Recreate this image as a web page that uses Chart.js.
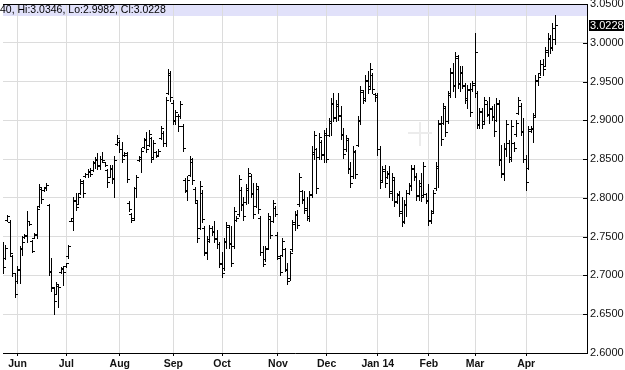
<!DOCTYPE html>
<html>
<head>
<meta charset="utf-8">
<script src="https://cdn.jsdelivr.net/npm/chart.js@4.4.1/dist/chart.umd.min.js"></script>
<style>
  html, body { margin: 0; padding: 0; background: #fff; }
  canvas { display: block; }
</style>
</head>
<body>
<canvas id="chart" width="625" height="370"></canvas>
<script>
// daily bars, 23 May 2013 .. 17 Apr 2014 (index = trading day)
const highs = [
  2.742, 2.738, 2.777, 2.771, 2.726, 2.703, 2.711, 2.737, 2.750, 2.753,
  2.782, 2.770, 2.745, 2.754, 2.787, 2.817, 2.814, 2.814, 2.818, 2.791,
  2.722, 2.685, 2.691, 2.688, 2.710, 2.711, 2.716, 2.739, 2.774, 2.801,
  2.806, 2.804, 2.824, 2.823, 2.832, 2.837, 2.838, 2.847, 2.852, 2.857,
  2.853, 2.858, 2.846, 2.836, 2.842, 2.842, 2.853, 2.880, 2.874, 2.871,
  2.859, 2.859, 2.795, 2.780, 2.814, 2.829, 2.853, 2.864, 2.877, 2.884,
  2.887, 2.878, 2.874, 2.860, 2.862, 2.892, 2.885, 2.929, 2.965, 2.963,
  2.926, 2.913, 2.907, 2.924, 2.894, 2.825, 2.827, 2.853, 2.851, 2.813,
  2.795, 2.821, 2.810, 2.763, 2.750, 2.765, 2.763, 2.769, 2.758, 2.742,
  2.729, 2.748, 2.768, 2.765, 2.763, 2.787, 2.776, 2.829, 2.813, 2.800,
  2.817, 2.838, 2.830, 2.819, 2.819, 2.813, 2.776, 2.737, 2.737, 2.780,
  2.776, 2.797, 2.789, 2.755, 2.724, 2.748, 2.735, 2.716, 2.731, 2.771,
  2.782, 2.784, 2.832, 2.810, 2.808, 2.801, 2.808, 2.866, 2.885, 2.864,
  2.883, 2.874, 2.887, 2.890, 2.902, 2.928, 2.935, 2.926, 2.935, 2.918,
  2.890, 2.881, 2.877, 2.845, 2.866, 2.861, 2.905, 2.943, 2.939, 2.958,
  2.963, 2.973, 2.960, 2.935, 2.935, 2.866, 2.840, 2.842, 2.834, 2.840,
  2.832, 2.825, 2.806, 2.808, 2.800, 2.797, 2.810, 2.819, 2.842, 2.842,
  2.832, 2.823, 2.832, 2.845, 2.806, 2.817, 2.784, 2.810, 2.845, 2.900,
  2.905, 2.922, 2.918, 2.937, 2.967, 2.973, 2.988, 2.984, 2.969, 2.969,
  2.948, 2.945, 2.948, 2.950, 3.012, 2.937, 2.915, 2.915, 2.930, 2.924,
  2.930, 2.918, 2.920, 2.928, 2.926, 2.868, 2.870, 2.900, 2.874, 2.900,
  2.872, 2.900, 2.930, 2.922, 2.902, 2.855, 2.892, 2.892, 2.909, 2.958,
  2.960, 2.977, 2.979, 2.994, 3.012, 3.010, 3.025, 3.0346
];
const lows = [
  2.703, 2.720, 2.770, 2.726, 2.698, 2.671, 2.690, 2.690, 2.726, 2.748,
  2.743, 2.765, 2.729, 2.747, 2.747, 2.787, 2.793, 2.808, 2.809, 2.700,
  2.679, 2.650, 2.675, 2.659, 2.703, 2.687, 2.710, 2.722, 2.769, 2.758,
  2.784, 2.791, 2.804, 2.801, 2.826, 2.826, 2.827, 2.834, 2.838, 2.836,
  2.836, 2.846, 2.840, 2.813, 2.826, 2.819, 2.801, 2.868, 2.859, 2.846,
  2.853, 2.820, 2.782, 2.768, 2.771, 2.800, 2.847, 2.833, 2.864, 2.858,
  2.866, 2.845, 2.849, 2.852, 2.854, 2.875, 2.866, 2.866, 2.933, 2.924,
  2.894, 2.894, 2.885, 2.903, 2.860, 2.807, 2.797, 2.827, 2.817, 2.793,
  2.743, 2.759, 2.768, 2.726, 2.720, 2.742, 2.752, 2.743, 2.735, 2.710,
  2.697, 2.707, 2.735, 2.735, 2.711, 2.735, 2.769, 2.776, 2.784, 2.771,
  2.791, 2.793, 2.800, 2.774, 2.787, 2.780, 2.726, 2.711, 2.718, 2.733,
  2.748, 2.768, 2.776, 2.720, 2.700, 2.724, 2.705, 2.688, 2.694, 2.731,
  2.758, 2.761, 2.789, 2.793, 2.780, 2.771, 2.769, 2.801, 2.849, 2.806,
  2.849, 2.849, 2.845, 2.845, 2.879, 2.881, 2.898, 2.898, 2.900, 2.875,
  2.851, 2.860, 2.832, 2.814, 2.825, 2.825, 2.866, 2.894, 2.922, 2.924,
  2.935, 2.941, 2.935, 2.924, 2.855, 2.812, 2.821, 2.814, 2.825, 2.801,
  2.797, 2.789, 2.793, 2.776, 2.763, 2.767, 2.776, 2.804, 2.810, 2.823,
  2.797, 2.797, 2.795, 2.801, 2.793, 2.765, 2.767, 2.780, 2.810, 2.814,
  2.868, 2.894, 2.879, 2.896, 2.930, 2.937, 2.930, 2.941, 2.937, 2.941,
  2.922, 2.915, 2.905, 2.937, 2.930, 2.890, 2.890, 2.890, 2.896, 2.905,
  2.896, 2.900, 2.879, 2.898, 2.842, 2.826, 2.823, 2.853, 2.845, 2.847,
  2.860, 2.879, 2.907, 2.881, 2.845, 2.810, 2.836, 2.884, 2.872, 2.905,
  2.945, 2.958, 2.958, 2.969, 2.982, 2.986, 2.990, 2.9982
];
const opens = [
  2.735, 2.722, 2.771, 2.768, 2.724, 2.703, 2.692, 2.706, 2.735, 2.749,
  2.750, 2.769, 2.744, 2.748, 2.752, 2.789, 2.811, 2.809, 2.812, 2.790,
  2.705, 2.683, 2.676, 2.686, 2.704, 2.708, 2.711, 2.724, 2.770, 2.770,
  2.795, 2.792, 2.806, 2.818, 2.827, 2.830, 2.833, 2.835, 2.844, 2.848,
  2.842, 2.850, 2.845, 2.835, 2.826, 2.836, 2.825, 2.869, 2.872, 2.863,
  2.855, 2.855, 2.793, 2.778, 2.773, 2.812, 2.848, 2.850, 2.865, 2.875,
  2.868, 2.876, 2.852, 2.858, 2.855, 2.877, 2.883, 2.870, 2.935, 2.958,
  2.922, 2.898, 2.905, 2.905, 2.892, 2.823, 2.808, 2.829, 2.846, 2.811,
  2.793, 2.760, 2.806, 2.760, 2.728, 2.744, 2.760, 2.757, 2.746, 2.740,
  2.716, 2.709, 2.742, 2.762, 2.741, 2.737, 2.771, 2.778, 2.810, 2.792,
  2.794, 2.810, 2.828, 2.806, 2.789, 2.811, 2.774, 2.730, 2.720, 2.735,
  2.772, 2.770, 2.786, 2.752, 2.722, 2.726, 2.733, 2.707, 2.696, 2.733,
  2.766, 2.778, 2.791, 2.808, 2.798, 2.786, 2.774, 2.805, 2.856, 2.862,
  2.852, 2.872, 2.855, 2.880, 2.881, 2.896, 2.920, 2.904, 2.918, 2.906,
  2.882, 2.862, 2.874, 2.836, 2.827, 2.858, 2.868, 2.898, 2.936, 2.928,
  2.950, 2.944, 2.958, 2.933, 2.932, 2.862, 2.822, 2.834, 2.826, 2.830,
  2.808, 2.822, 2.795, 2.804, 2.782, 2.770, 2.790, 2.806, 2.815, 2.836,
  2.828, 2.803, 2.815, 2.803, 2.804, 2.795, 2.771, 2.782, 2.812, 2.838,
  2.896, 2.896, 2.915, 2.898, 2.934, 2.960, 2.944, 2.980, 2.948, 2.960,
  2.944, 2.928, 2.938, 2.940, 2.945, 2.935, 2.893, 2.912, 2.898, 2.920,
  2.906, 2.914, 2.905, 2.900, 2.920, 2.850, 2.830, 2.862, 2.870, 2.852,
  2.870, 2.882, 2.909, 2.918, 2.884, 2.850, 2.838, 2.886, 2.888, 2.906,
  2.950, 2.960, 2.972, 2.970, 2.988, 3.004, 2.994, 3.0040
];
const closes = [
  2.710, 2.735, 2.776, 2.728, 2.702, 2.676, 2.708, 2.734, 2.742, 2.752,
  2.770, 2.766, 2.731, 2.753, 2.785, 2.813, 2.798, 2.813, 2.816, 2.704,
  2.684, 2.666, 2.688, 2.684, 2.709, 2.704, 2.715, 2.737, 2.773, 2.796,
  2.788, 2.801, 2.821, 2.806, 2.830, 2.834, 2.830, 2.845, 2.849, 2.840,
  2.850, 2.848, 2.842, 2.820, 2.838, 2.824, 2.848, 2.877, 2.862, 2.850,
  2.857, 2.824, 2.785, 2.771, 2.812, 2.826, 2.852, 2.860, 2.874, 2.862,
  2.882, 2.850, 2.870, 2.854, 2.860, 2.889, 2.870, 2.926, 2.960, 2.930,
  2.900, 2.910, 2.892, 2.920, 2.864, 2.810, 2.822, 2.850, 2.822, 2.797,
  2.748, 2.815, 2.772, 2.730, 2.746, 2.760, 2.755, 2.747, 2.740, 2.714,
  2.702, 2.744, 2.764, 2.740, 2.716, 2.783, 2.774, 2.824, 2.790, 2.776,
  2.812, 2.832, 2.805, 2.778, 2.815, 2.785, 2.730, 2.714, 2.733, 2.776,
  2.752, 2.793, 2.778, 2.724, 2.704, 2.744, 2.708, 2.692, 2.728, 2.768,
  2.777, 2.765, 2.826, 2.797, 2.784, 2.776, 2.803, 2.858, 2.880, 2.812,
  2.878, 2.856, 2.883, 2.850, 2.898, 2.922, 2.903, 2.920, 2.905, 2.880,
  2.856, 2.876, 2.838, 2.818, 2.860, 2.830, 2.900, 2.938, 2.926, 2.952,
  2.940, 2.966, 2.940, 2.930, 2.862, 2.820, 2.836, 2.818, 2.832, 2.806,
  2.826, 2.794, 2.803, 2.780, 2.768, 2.792, 2.806, 2.816, 2.838, 2.826,
  2.802, 2.818, 2.800, 2.840, 2.796, 2.770, 2.780, 2.806, 2.840, 2.895,
  2.875, 2.918, 2.884, 2.932, 2.962, 2.945, 2.982, 2.946, 2.962, 2.945,
  2.926, 2.940, 2.910, 2.948, 2.988, 2.895, 2.910, 2.895, 2.925, 2.908,
  2.915, 2.904, 2.885, 2.922, 2.848, 2.832, 2.864, 2.894, 2.850, 2.892,
  2.864, 2.896, 2.925, 2.886, 2.850, 2.820, 2.888, 2.890, 2.904, 2.952,
  2.955, 2.972, 2.965, 2.990, 3.005, 2.992, 3.018, 3.0228
];

// first trading day of each month (bar index) and its label
const monthStarts = [6, 26, 48, 70, 90, 113, 133, 154, 175, 194, 215];
const monthLabels = ["Jun", "Jul", "Aug", "Sep", "Oct", "Nov", "Dec", "Jan 14", "Feb", "Mar", "Apr"];
const priceTicks = [2.60, 2.65, 2.70, 2.75, 2.80, 2.85, 2.90, 2.95, 3.00, 3.05];

const headerText = "40, Hi:3.0346, Lo:2.9982, Cl:3.0228";
const lastClose = closes[closes.length - 1];

Chart.defaults.font.family = '"Liberation Sans", Arial, sans-serif';

function tickImage(side) {
    const c = document.createElement("canvas");
    c.width = 5;
    c.height = 1;
    const g = c.getContext("2d");
    g.fillStyle = "#000";
    g.fillRect(side === "left" ? 0 : 3, 0, 2, 1);
    return c;
}

// snap bars and ticks to whole pixels so they come out crisp like the original
const crispBars = {
    id: "crispBars",
    beforeDatasetsDraw(chart) {
        chart.data.datasets.forEach((ds, k) => {
            chart.getDatasetMeta(k).data.forEach((el) => {
                el.x = Math.floor(el.x) + 0.5;
                if (ds.type === "bar") {
                    el.y = Math.floor(el.y);
                    el.base = Math.ceil(el.base);
                } else {
                    el.y = Math.floor(el.y) + 0.5;
                }
            });
        });
    },
};

const decorations = {
    id: "decorations",
    beforeDraw(chart) {
        const { ctx, chartArea } = chart;
        ctx.save();
        ctx.fillStyle = "#e1e1fa";
        ctx.fillRect(chartArea.left, chartArea.top, chartArea.right - chartArea.left, 12);
        ctx.restore();
    },
    afterDraw(chart) {
        const { ctx, chartArea, scales } = chart;
        ctx.save();

        // top border
        ctx.strokeStyle = "#000";
        ctx.lineWidth = 1;
        ctx.beginPath();
        ctx.moveTo(chartArea.left, chartArea.top + 0.5);
        ctx.lineTo(chartArea.right, chartArea.top + 0.5);
        ctx.stroke();

        // short inward tick marks on the price axis
        priceTicks.forEach((v) => {
            const y = Math.round(scales.y.getPixelForValue(v)) + 0.5;
            ctx.beginPath();
            ctx.moveTo(chartArea.right - 4, y);
            ctx.lineTo(chartArea.right, y);
            ctx.stroke();
        });

        // header line
        ctx.fillStyle = "#000";
        ctx.font = '10.5px "Liberation Sans", Arial, sans-serif';
        ctx.textBaseline = "middle";
        ctx.textAlign = "left";
        ctx.fillText(headerText, 0, chartArea.top + 6.5);

        // last price marker
        const yl = Math.round(scales.y.getPixelForValue(lastClose));
        ctx.fillStyle = "#000";
        ctx.fillRect(chartArea.right + 2, yl - 5, 35, 11);
        ctx.fillStyle = "#fff";
        ctx.font = '11px "Liberation Sans", Arial, sans-serif';
        ctx.fillText(lastClose.toFixed(4), chartArea.right + 3, yl + 0.5);

        // faint cursor cross
        ctx.fillStyle = "#ececec";
        ctx.fillRect(408, 132, 24, 2);
        ctx.fillRect(419, 122, 2, 24);

        ctx.restore();
    },
};

new Chart(document.getElementById("chart"), {
    type: "bar",
    data: {
        datasets: [
            {
                type: "bar",
                data: highs.map((h, i) => ({ x: i, y: [lows[i], h] })),
                backgroundColor: "#000",
                borderWidth: 0,
                barThickness: 1,
                inflateAmount: 0,
                grouped: false,
            },
            {
                type: "line",
                data: opens.map((o, i) => ({ x: i, y: o })),
                showLine: false,
                pointStyle: tickImage("left"),
                pointRadius: 2,
                pointHoverRadius: 2,
            },
            {
                type: "line",
                data: closes.map((c, i) => ({ x: i, y: c })),
                showLine: false,
                pointStyle: tickImage("right"),
                pointRadius: 2,
                pointHoverRadius: 2,
            },
        ],
    },
    options: {
        responsive: false,
        animation: false,
        events: [],
        layout: { padding: { top: 4, left: 0, right: 0, bottom: 0 } },
        plugins: {
            legend: { display: false },
            tooltip: { enabled: false },
        },
        scales: {
            x: {
                type: "linear",
                min: 0,
                max: 240,
                offset: false,
                grid: { color: "#dcdcdc", tickColor: "#000", tickLength: 3, offset: false },
                border: { color: "#000" },
                ticks: {
                    color: "#111",
                    font: { size: 10.5, weight: "bold" },
                    padding: 2,
                    maxRotation: 0,
                    autoSkip: false,
                    callback: (v, i) => monthLabels[i],
                },
                afterBuildTicks: (s) => {
                    s.ticks = monthStarts.map((v) => ({ value: v }));
                },
                afterFit: (s) => {
                    s.height = 17;
                    s.paddingLeft = 0;
                    s.paddingRight = 0;
                },
            },
            y: {
                position: "right",
                min: 2.6,
                max: 3.05,
                grid: { color: "#dcdcdc", drawTicks: false },
                border: { color: "#000" },
                ticks: {
                    color: "#111",
                    font: { size: 11 },
                    padding: 3,
                    callback: (v) => v.toFixed(4),
                },
                afterBuildTicks: (s) => {
                    s.ticks = priceTicks.map((v) => ({ value: v }));
                },
                afterFit: (s) => {
                    s.width = 38;
                    s.paddingTop = 0;
                    s.paddingBottom = 0;
                },
            },
        },
    },
    plugins: [crispBars, decorations],
});
</script>
</body>
</html>
